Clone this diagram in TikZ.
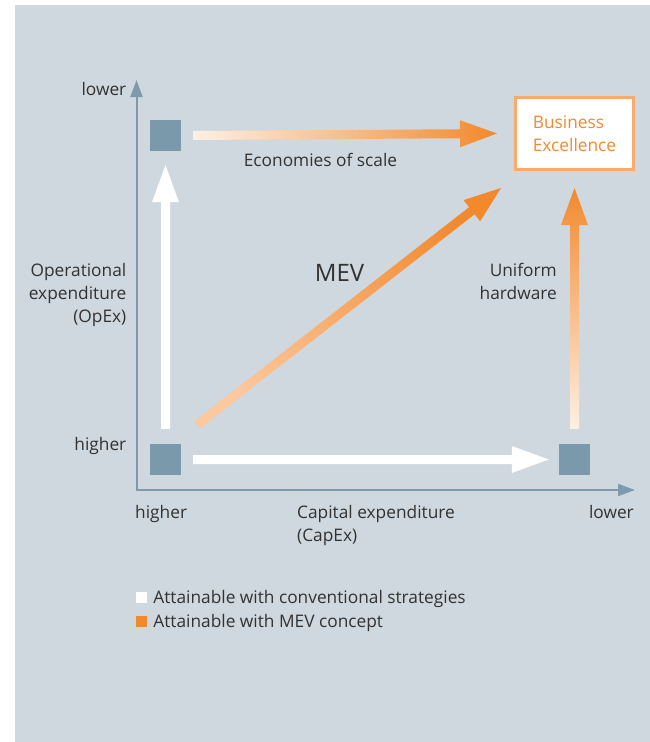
\documentclass[tikz,border=0pt]{standalone}
\usepackage{fontspec}
\setmainfont{Open Sans}
\usepackage{xcolor}
\usepackage{tikz}
\usetikzlibrary{arrows.meta,positioning,calc}
\definecolor{bggray}{RGB}{207,216,222}
\definecolor{axisblue}{RGB}{125,155,172}
\definecolor{sqblue}{RGB}{122,153,170}
\definecolor{mevorange}{RGB}{242,137,45}
\definecolor{mevpeach}{RGB}{254,240,228}
\definecolor{mevsalmon}{RGB}{252,200,158}
\definecolor{boxorange}{RGB}{249,170,108}
\definecolor{txtgray}{RGB}{50,50,50}
\tikzset{
  lbl/.style={font=\fontsize{17.3}{23}\selectfont, text=txtgray, inner sep=0pt},
  state/.style={rectangle, fill=sqblue, minimum size=31pt, inner sep=0pt},
  goal/.style={rectangle, draw=boxorange, line width=3pt, fill=white, minimum width=118pt, minimum height=72pt, inner sep=0pt, align=left, text=mevorange, font=\fontsize{17.3}{23}\selectfont},
  axis/.style={draw=axisblue, line width=2pt, {Triangle[length=17pt,width=12pt]}-{Triangle[length=17pt,width=12pt]}},
  legend/.style={rectangle, minimum size=11pt, inner sep=0pt}
}
% broad arrow: shaft 9pt, head 27pt wide, 37pt long
\newcommand{\fatarrow}[3]{%
  \coordinate (fa-base) at ($(#3)!37pt!(#2)$);
  \path[#1] ($(#2)!4.5pt!90:(#3)$) -- ($(fa-base)!4.5pt!90:(#3)$) -- ($(fa-base)!13.5pt!90:(#3)$) -- (#3)
    -- ($(fa-base)!13.5pt!-90:(#3)$) -- ($(fa-base)!4.5pt!-90:(#3)$) -- ($(#2)!4.5pt!-90:(#3)$) -- cycle;
}

\begin{document}
\begin{tikzpicture}[x=1pt, y=-1pt]
    \useasboundingbox (0,0) rectangle (650,742);
    \fill[bggray] (15,5) rectangle (650,742);

    % axes
    \coordinate (org) at (136.5,490);
    \coordinate (ytip) at (136.5,80);
    \coordinate (xtip) at (635,490);
    \draw[axis] (ytip) -- (org) -- (xtip);

    \node[state] (sqTL) at (165.5,135.5) {};
    \node[state] (sqBL) at (165.5,459.5) {};
    \node[state] (sqBR) at (574.5,459.5) {};
    \node[goal] (biz) at (574.5,133.5) {Business\\Excellence};

    \coordinate (eosS) at ([xshift=12pt]sqTL.east);
    \coordinate (eosE) at ([xshift=-17pt]biz.west);
    \coordinate (opS) at ([yshift=15pt]sqBL.north);
    \coordinate (opE) at ([yshift=-14pt]sqTL.south);
    \coordinate (cxS) at ([xshift=12pt]sqBL.east);
    \coordinate (cxE) at ([xshift=-10pt]sqBR.west);
    \coordinate (uhS) at ([yshift=15pt]sqBR.north);
    \coordinate (uhE) at ([yshift=-17pt]biz.south);
    \coordinate (mevS) at ([xshift=31.5pt,yshift=34.5pt]sqBL.center);
    \coordinate (mevE) at ([xshift=-13pt,yshift=-17pt]biz.south west);

    \fatarrow{fill=white}{opS}{opE}
    \fatarrow{fill=white}{cxS}{cxE}
    \fatarrow{left color=mevpeach, right color=mevorange}{eosS}{eosE}
    \fatarrow{bottom color=mevpeach, top color=mevorange}{uhS}{uhE}
    \fatarrow{bottom color=mevsalmon, top color=mevorange, shading angle=-52}{mevS}{mevE}

    \node[lbl, anchor=base] (eos) at (320.5,166) {Economies of scale};
    \node[lbl, anchor=base, font=\fontsize{24}{28}\selectfont] (mev) at (339.5,281) {MEV};
    \node[lbl, anchor=north east, align=right] (uh) at (557,263) {Uniform\\hardware};
    \node[lbl, anchor=north east, align=right] (opex) at (126.5,263) {Operational\\expenditure\\(OpEx)};
    \node[lbl, anchor=base east] (ylow) at (126.5,95) {lower};
    \node[lbl, anchor=base east] (yhigh) at (126.5,450) {higher};
    \node[lbl, anchor=base west] (xhigh) at (135,518) {higher};
    \node[lbl, anchor=north west, align=left] (capex) at (297,505) {Capital expenditure\\(CapEx)};
    \node[lbl, anchor=base east] (xlow) at (634,518) {lower};

    % legend
    \node[legend, fill=white] (lgW) at (141.5,597.5) {};
    \node[legend, fill=mevorange, below=13pt of lgW] (lgO) {};
    \node[lbl, right=6pt of lgW.south east, anchor=base west] (lgWtxt) {Attainable with conventional strategies};
    \node[lbl, right=6pt of lgO.south east, anchor=base west] (lgOtxt) {Attainable with MEV concept};
\end{tikzpicture}
\end{document}
